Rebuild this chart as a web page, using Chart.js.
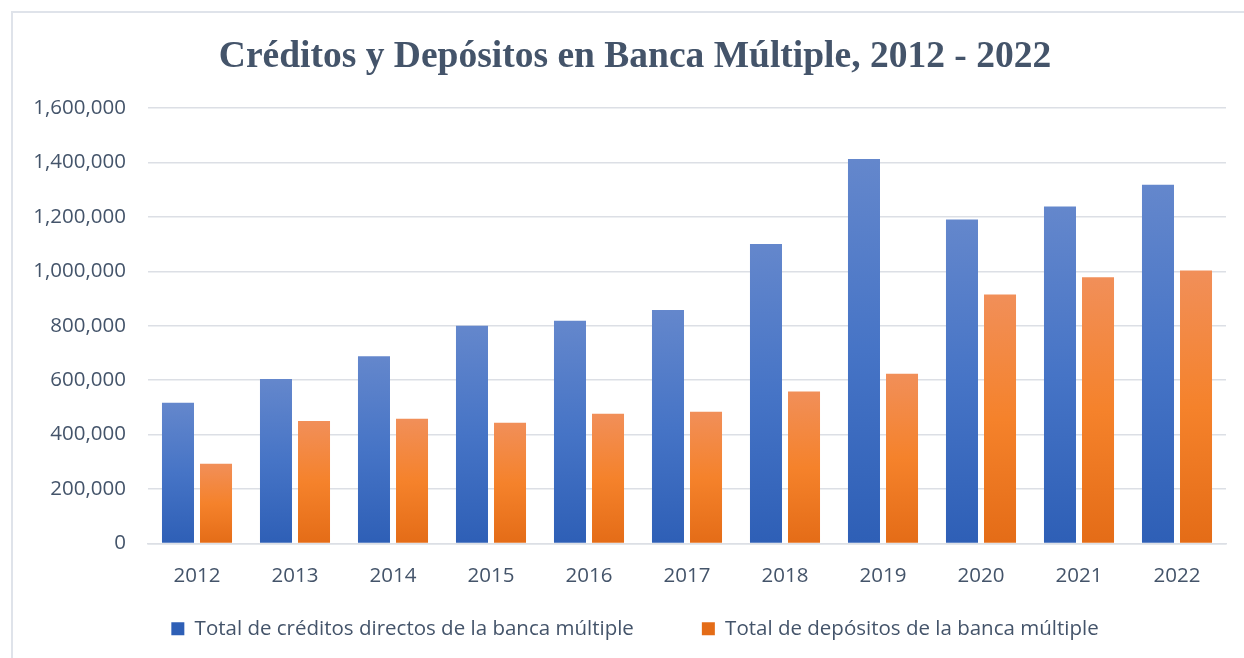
<!DOCTYPE html>
<html lang="es">
<head>
<meta charset="utf-8">
<title>Créditos y Depósitos en Banca Múltiple</title>
<script src="https://cdn.jsdelivr.net/npm/chart.js@4"></script>
<style>
    html, body { margin: 0; padding: 0; background: #fff; overflow: hidden; }
    body { width: 1244px; height: 658px; position: relative; }
    .frame {
        position: absolute;
        left: 11px;
        top: 11px;
        width: 1248px;
        height: 664px;
        border: 2px solid #dfe3ea;
    }
    .frame canvas { display: block; }
</style>
</head>
<body>
<div class="frame">
    <canvas id="bankChart" width="1244" height="660"></canvas>
</div>
<script>
const years = ['2012', '2013', '2014', '2015', '2016', '2017', '2018', '2019', '2020', '2021', '2022'];
const credits = [517000, 604000, 688000, 800000, 818000, 858000, 1100000, 1413000, 1190000, 1238000, 1318000];
const deposits = [293000, 450000, 458000, 444000, 477000, 484000, 558000, 624000, 915000, 978000, 1003000];
const yTicks = [0, 200000, 400000, 600000, 800000, 1000000, 1200000, 1400000, 1600000];

const textColor = '#44546a';
const gridColor = '#dcdfe5';
const labelFont = { family: '"Open Sans", sans-serif', size: 20.5 };

// vertical gradient per bar: light at the top, darker at the base
function barFill(stops, solid) {
    return function(ctx) {
        const chart = ctx.chart;
        if (ctx.type !== 'data' || !chart.chartArea || !chart.scales.y) {
            return solid;
        }
        const y = chart.scales.y;
        const top = y.getPixelForValue(ctx.raw);
        const base = y.getPixelForValue(0);
        if (!isFinite(top) || top === base) {
            return solid;
        }
        const g = chart.ctx.createLinearGradient(0, top, 0, base);
        g.addColorStop(0, stops[0]);
        g.addColorStop(0.5, stops[1]);
        g.addColorStop(1, stops[2]);
        return g;
    };
}

// the legend keeps a wide gap between its two entries (labels.padding),
// which also pushes the row down, so lift the legend box back up
const legendLift = {
    id: 'legendLift',
    afterLayout: function(chart) {
        const lg = chart.legend;
        if (lg) {
            lg.top -= 37;
            lg.bottom -= 37;
        }
    }
};

document.addEventListener('DOMContentLoaded', function() {
    const canvas = document.getElementById('bankChart');

    new Chart(canvas, {
        type: 'bar',
        data: {
            labels: years,
            datasets: [{
                label: 'Total de créditos directos de la banca múltiple',
                data: credits,
                backgroundColor: barFill(['#6487cc', '#4674c6', '#2e5fb6'], '#4472c4'),
                categoryPercentage: 0.776,
                barPercentage: 0.842
            }, {
                label: 'Total de depósitos de la banca múltiple',
                data: deposits,
                backgroundColor: barFill(['#f18f59', '#f5822b', '#e46c17'], '#ed7d31'),
                categoryPercentage: 0.776,
                barPercentage: 0.842
            }]
        },
        plugins: [legendLift],
        options: {
            responsive: false,
            animation: false,
            devicePixelRatio: 1,
            layout: { padding: { top: 0, left: 0, right: 0, bottom: -13 } },
            plugins: {
                title: {
                    display: true,
                    text: 'Créditos y Depósitos en Banca Múltiple, 2012 - 2022',
                    color: textColor,
                    font: { family: '"Liberation Serif", "Times New Roman", serif', size: 37.5, weight: 'bold', lineHeight: 1.2 },
                    padding: { top: 22, bottom: 28 }
                },
                legend: {
                    position: 'bottom',
                    labels: {
                        color: textColor,
                        font: labelFont,
                        boxWidth: 13,
                        boxHeight: 13,
                        padding: 68
                    }
                },
                tooltip: { enabled: false }
            },
            scales: {
                x: {
                    grid: { display: false, drawTicks: false },
                    border: { display: true, color: gridColor, width: 1.5 },
                    ticks: {
                        color: textColor,
                        font: labelFont,
                        padding: 20
                    },
                    afterFit: function(scale) {
                        scale.height = 44;
                    }
                },
                y: {
                    min: 0,
                    max: 1600000,
                    grid: { color: gridColor, lineWidth: 1.5, drawTicks: false },
                    border: { display: false },
                    afterBuildTicks: function(scale) {
                        scale.ticks = yTicks.map(function(v) { return { value: v }; });
                    },
                    ticks: {
                        color: textColor,
                        font: labelFont,
                        padding: 22,
                        callback: function(v) { return v.toLocaleString('en-US'); }
                    },
                    afterFit: function(scale) {
                        scale.width = 135;
                    }
                },
                yRight: {
                    position: 'right',
                    display: true,
                    grid: { display: false, drawTicks: false },
                    border: { display: false },
                    ticks: { display: false },
                    afterFit: function(scale) {
                        scale.width = 31;
                    }
                }
            }
        }
    });
});
</script>
</body>
</html>
